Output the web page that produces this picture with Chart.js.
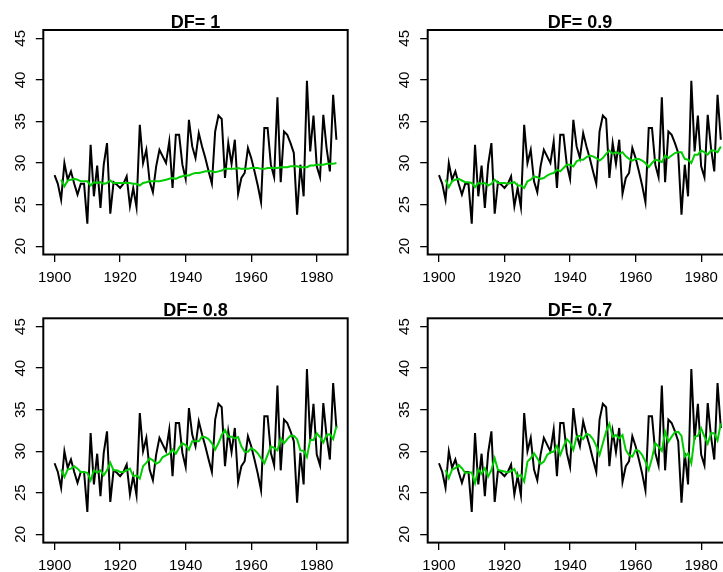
<!DOCTYPE html>
<html>
<head>
<meta charset="utf-8">
<script src="https://cdn.jsdelivr.net/npm/chart.js@4/dist/chart.umd.min.js"></script>
<style>
html,body{margin:0;padding:0;background:#ffffff;width:723px;height:572px;overflow:hidden;position:relative}
canvas{position:absolute;display:block}
</style>
</head>
<body>
<canvas id="c1" width="385" height="290" style="left:0px;top:0px"></canvas>
<canvas id="c2" width="385" height="290" style="left:385px;top:0px"></canvas>
<canvas id="c3" width="385" height="282" style="left:0px;top:290px"></canvas>
<canvas id="c4" width="385" height="282" style="left:385px;top:290px"></canvas>
<script>
// ---- data ----
const years = [1900,1901,1902,1903,1904,1905,1906,1907,1908,1909,
  1910,1911,1912,1913,1914,1915,1916,1917,1918,1919,
  1920,1921,1922,1923,1924,1925,1926,1927,1928,1929,
  1930,1931,1932,1933,1934,1935,1936,1937,1938,1939,
  1940,1941,1942,1943,1944,1945,1946,1947,1948,1949,
  1950,1951,1952,1953,1954,1955,1956,1957,1958,1959,
  1960,1961,1962,1963,1964,1965,1966,1967,1968,1969,
  1970,1971,1972,1973,1974,1975,1976,1977,1978,1979,
  1980,1981,1982,1983,1984,1985,1986];

const observed = [28.55,27.5,25.6,30.0,28.0,29.0,27.5,26.2,27.5,27.5,
  22.7,32.2,26.0,29.7,24.6,29.8,32.4,23.9,27.7,27.4,
  27.0,27.5,28.4,24.8,27.0,24.7,34.6,30.0,31.6,27.8,
  26.5,29.6,31.6,30.8,30.0,32.6,27.0,33.4,33.4,29.8,
  28.1,35.2,32.0,30.6,33.6,32.0,30.6,29.0,27.5,33.8,
  35.7,35.3,28.2,32.4,29.9,32.8,26.3,28.2,28.8,31.8,
  30.6,29.0,27.3,25.3,34.2,34.2,29.8,28.3,37.9,27.7,
  33.8,33.4,32.4,31.2,23.8,29.8,26.0,39.9,31.4,35.7,
  29.6,28.3,35.8,31.8,29.0,38.2,32.8];

const smoothDF10 = [null,null,28.0,27.2,27.9,28.0,28.1,28.0,27.8,27.8,
  27.8,27.3,27.7,27.6,27.7,27.5,27.6,27.9,27.6,27.6,
  27.6,27.6,27.6,27.6,27.5,27.5,27.3,27.6,27.7,27.8,
  27.8,27.8,27.8,27.9,28.0,28.1,28.2,28.1,28.3,28.4,
  28.5,28.5,28.7,28.8,28.8,28.9,29.0,29.0,29.0,28.9,
  29.0,29.1,29.3,29.3,29.3,29.3,29.4,29.3,29.3,29.3,
  29.4,29.4,29.4,29.3,29.3,29.4,29.4,29.4,29.4,29.5,
  29.5,29.5,29.6,29.6,29.6,29.5,29.5,29.5,29.7,29.7,
  29.8,29.8,29.8,29.9,29.9,29.9,30.0];

const smoothDF09 = [null,null,28.0,27.1,27.8,28.0,28.1,27.9,27.7,27.7,
  27.6,27.1,27.6,27.5,27.6,27.3,27.5,28.0,27.6,27.6,
  27.6,27.5,27.6,27.7,27.3,27.3,27.0,27.8,28.0,28.4,
  28.3,28.1,28.2,28.5,28.7,28.8,29.2,29.0,29.4,29.8,
  29.8,29.6,30.2,30.4,30.4,30.7,30.9,30.8,30.6,30.3,
  30.6,31.1,31.5,31.1,31.3,31.1,31.3,30.8,30.5,30.3,
  30.5,30.5,30.3,30.0,29.5,30.0,30.4,30.3,30.1,30.9,
  30.6,30.9,31.2,31.3,31.3,30.5,30.4,30.0,31.0,31.0,
  31.5,31.3,31.0,31.5,31.5,31.3,32.0];

const smoothDF08 = [null,null,27.8,26.9,27.8,27.9,28.2,27.9,27.5,27.5,
  27.4,26.5,27.7,27.4,27.7,27.1,27.7,28.6,27.7,27.7,
  27.5,27.5,27.7,27.9,27.0,27.1,26.7,28.2,28.6,29.15,
  28.9,28.5,28.7,29.3,29.5,29.7,30.2,29.7,30.4,30.95,
  30.75,30.2,31.2,31.2,31.2,31.75,31.7,31.45,30.95,30.2,
  30.95,31.95,32.55,31.75,31.75,31.55,31.7,30.6,29.95,29.95,
  30.35,30.15,29.75,29.15,28.55,29.55,30.55,30.4,30.1,31.55,
  30.95,31.45,31.85,31.85,31.45,30.1,30.05,29.3,31.35,31.35,
  32.15,31.7,31.05,31.95,32.05,31.45,33.0];

const smoothDF07 = [null,null,27.75,26.75,27.8,27.95,28.35,27.95,27.4,27.45,
  27.45,26.15,27.8,27.3,27.95,26.95,27.75,29.15,27.75,27.65,
  27.55,27.45,27.6,27.85,26.95,27.15,26.35,28.75,29.15,29.75,
  29.15,28.45,28.75,29.55,29.85,29.95,30.65,29.55,30.55,31.45,
  31.05,30.15,31.75,31.85,31.45,32.1,31.95,31.45,30.65,29.55,
  30.95,32.35,33.3,31.75,31.95,31.55,31.95,30.15,29.55,29.35,
  30.15,30.05,29.55,28.75,27.75,29.15,30.95,30.55,30.05,32.35,
  31.15,31.75,32.3,32.35,31.85,29.35,29.75,28.55,31.75,31.85,
  32.75,31.75,30.9,32.15,32.15,31.3,33.35];

const titles = ['DF= 1','DF= 0.9','DF= 0.8','DF= 0.7'];
const xTicks = [1900,1920,1940,1960,1980];
const yTicks = [20,25,30,35,40,45];

// ---- drawing ----
const FONT = "'Liberation Sans', Arial, Helvetica, sans-serif";
Chart.defaults.font.family = FONT;
Chart.defaults.color = '#000';

const smooths = [smoothDF10, smoothDF09, smoothDF08, smoothDF07];

// layout geometry for each panel (canvas-relative)
const geo = [
  {id:'c1', yw:43.3, padTop:15.6, padRight:37.3, xh:35.5},
  {id:'c2', yw:42.7, padTop:15.6, padRight:37.9, xh:35.5},
  {id:'c3', yw:43.3, padTop:13.9, padRight:37.3, xh:29.4},
  {id:'c4', yw:42.7, padTop:13.9, padRight:37.9, xh:29.4}
];

const boxPlugin = {
  id: 'rbox',
  afterDraw(chart) {
    const ctx = chart.ctx, a = chart.chartArea, ys = chart.scales.y;
    ctx.save();
    ctx.strokeStyle = '#000';
    ctx.lineWidth = 2;
    ctx.strokeRect(a.left, a.top, a.right - a.left, a.bottom - a.top);
    ctx.fillStyle = '#000';
    ctx.font = '15px ' + FONT;
    ctx.textAlign = 'center';
    ctx.textBaseline = 'middle';
    ys.ticks.forEach(t => {
      const py = ys.getPixelForValue(t.value);
      ctx.save();
      ctx.translate(a.left - 22.5, py);
      ctx.rotate(-Math.PI / 2);
      ctx.fillText(String(t.value), 0, 0);
      ctx.restore();
    });
    ctx.restore();
  }
};

geo.forEach((g, i) => {
  const pts = (arr) => years.map((yr, k) => ({x: yr, y: arr[k]}));
  new Chart(document.getElementById(g.id), {
    type: 'line',
    data: {
      datasets: [
        {data: pts(smooths[i]), borderColor: '#00cd00', borderWidth: 2, pointRadius: 0, tension: 0, spanGaps: false, order: 1},
        {data: pts(observed), borderColor: '#000000', borderWidth: 2, pointRadius: 0, tension: 0, order: 2}
      ]
    },
    options: {
      responsive: false,
      animation: false,
      devicePixelRatio: 1,
      events: [],
      layout: {padding: {left: 0, top: g.padTop, right: g.padRight, bottom: 0}},
      plugins: {
        legend: {display: false},
        tooltip: {enabled: false},
        title: {
          display: true,
          text: titles[i],
          fullSize: false,
          color: '#000',
          font: {size: 18, weight: 'bold', lineHeight: 0.8, family: FONT},
          padding: {top: 0, bottom: 0}
        }
      },
      scales: {
        x: {
          type: 'linear',
          min: 1896.56,
          max: 1989.44,
          afterBuildTicks: s => { s.ticks = xTicks.map(v => ({value: v})); },
          afterFit: s => { s.height = g.xh; },
          border: {display: false},
          grid: {drawOnChartArea: false, drawTicks: true, tickLength: 7.5, color: '#000', lineWidth: 1.3},
          ticks: {autoSkip: false, maxRotation: 0, minRotation: 0, padding: 6.5, color: '#000',
                  font: {size: 15, family: FONT}, callback: v => String(v)}
        },
        y: {
          type: 'linear',
          min: 19,
          max: 46,
          afterBuildTicks: s => { s.ticks = yTicks.map(v => ({value: v})); },
          afterFit: s => { s.width = g.yw; },
          border: {display: false},
          grid: {drawOnChartArea: false, drawTicks: true, tickLength: 7.5, color: '#000', lineWidth: 1.3},
          ticks: {display: false}
        }
      }
    },
    plugins: [boxPlugin]
  });
});
</script>
</body>
</html>
